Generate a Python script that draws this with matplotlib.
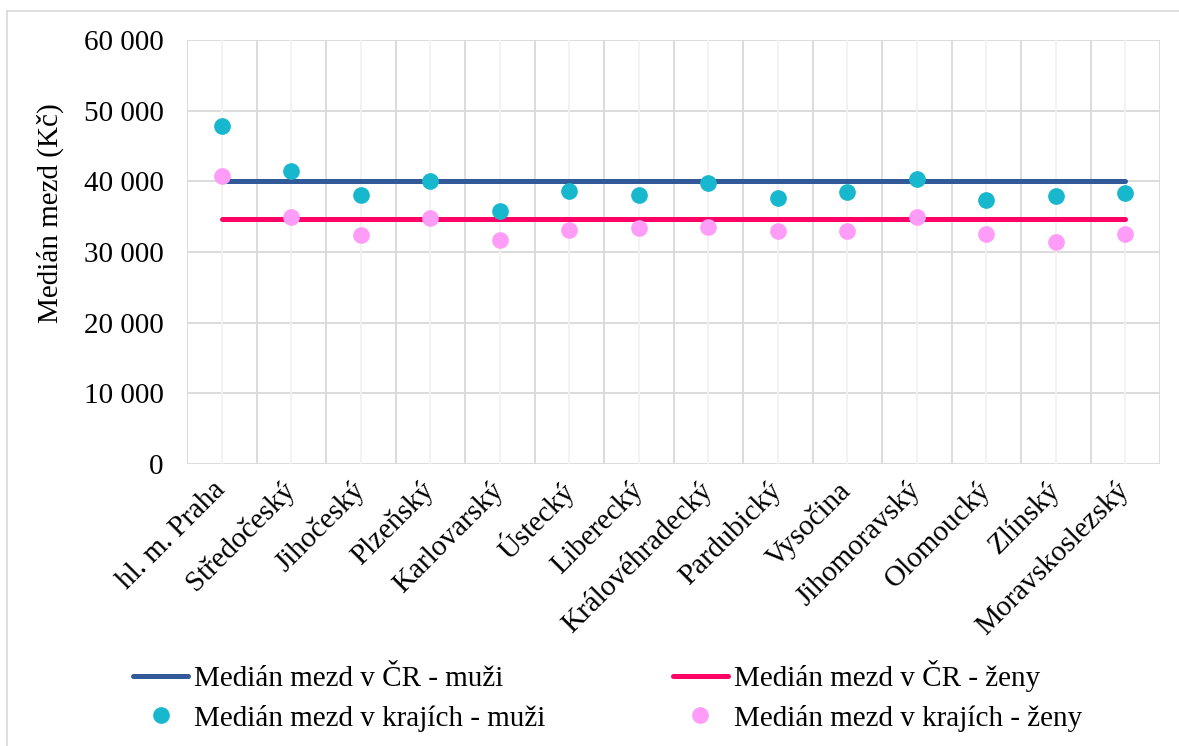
import matplotlib
matplotlib.use("Agg")
import matplotlib.pyplot as plt
from matplotlib.lines import Line2D
from matplotlib.ticker import FuncFormatter

plt.rcParams['font.family'] = ['Liberation Serif', 'DejaVu Serif']

regions = ["hl. m. Praha", "Středočeský", "Jihočeský", "Plzeňský", "Karlovarský",
           "Ústecký", "Liberecký", "Královéhradecký", "Pardubický", "Vysočina",
           "Jihomoravský", "Olomoucký", "Zlínský", "Moravskoslezský"]
men_regions = [47800, 41500, 38100, 40000, 35800, 38700, 38000, 39800, 37600,
               38500, 40300, 37400, 37900, 38400]
women_regions = [40800, 34900, 32350, 34750, 31700, 33100, 33400, 33500, 33000,
                 32950, 34900, 32600, 31400, 32500]
men_cr = [40000] * 14
women_cr = [34600] * 14
yticks = [0, 10000, 20000, 30000, 40000, 50000, 60000]

FS = 21
fig = plt.figure(figsize=(11.79, 7.46), dpi=100)
W, H = 1179, 746
ax = fig.add_axes([187 / W, 1 - 464 / H, (1160 - 187) / W, (464 - 40) / H])

x = list(range(len(regions)))
ax.plot(x, men_cr, color='#335A98', lw=3.6, solid_capstyle='round', zorder=3,
        label='Medián mezd v ČR - muži')
ax.plot(x, women_cr, color='#FF0066', lw=3.6, solid_capstyle='round', zorder=3,
        label='Medián mezd v ČR - ženy')
ax.plot(x, men_regions, 'o', color='#17B8CE', ms=11, zorder=4,
        label='Medián mezd v krajích - muži')
ax.plot(x, women_regions, 'o', color='#FF9CF8', ms=11, zorder=4,
        label='Medián mezd v krajích - ženy')

ax.set_xlim(-0.5, len(regions) - 0.5)
ax.set_ylim(0, 60000)
ax.set_yticks(yticks)
ax.yaxis.set_major_formatter(FuncFormatter(lambda v, p: f"{int(v):,}".replace(",", " ")))
ax.set_xticks(x)
ax.set_xticklabels(regions, rotation=45, ha='right', va='center', rotation_mode='anchor',
                   fontsize=FS)
ax.tick_params(axis='y', labelsize=FS, length=0, pad=17)
ax.tick_params(axis='x', length=0, pad=16)

# gridlines
for v in yticks:
    ax.axhline(v, color='#D9D9D9', lw=1.3, zorder=0)
for i in x:
    ax.axvline(i, color='#F2F2F2', lw=1.3, zorder=0)
for i in range(len(regions) + 1):
    ax.axvline(i - 0.5, color='#D9D9D9', lw=1.3, zorder=0)
for s in ax.spines.values():
    s.set_visible(False)

fig.text(50 / W, 1 - 213 / H, 'Medián mezd (Kč)', rotation=90, ha='center', va='center',
         fontsize=FS)

# outer frame (top and left)
fig.add_artist(Line2D([7 / W, 1.0], [1 - 11 / H, 1 - 11 / H], color='#D9D9D9', lw=1.2))
fig.add_artist(Line2D([7 / W, 7 / W], [0, 1 - 11 / H], color='#D9D9D9', lw=1.2))

h, l = ax.get_legend_handles_labels()
order = [0, 2, 1, 3]
leg = fig.legend([h[i] for i in order], [l[i] for i in order], ncol=2,
                 loc='center left', bbox_to_anchor=(133 / W, 1 - 696 / H),
                 frameon=False, fontsize=FS, handlelength=1.9, handletextpad=0.2,
                 columnspacing=4.35, labelspacing=0.42, borderaxespad=0, borderpad=0)

fig.savefig('out.png', dpi=100)
